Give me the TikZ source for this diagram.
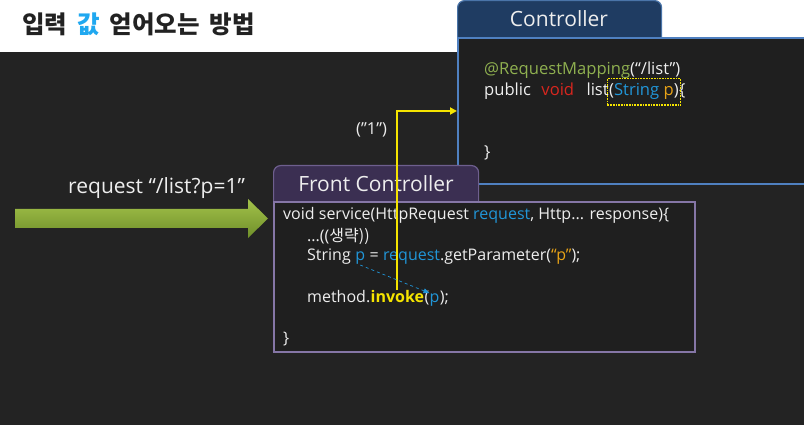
\documentclass[tikz,border=0pt]{standalone}
\usepackage{fontspec}
\setmainfont{Open Sans}
\newfontfamily\kr{Noto Sans CJK KR}
\usetikzlibrary{arrows.meta,fit}
\definecolor{bg}{HTML}{232323}
\definecolor{boxfill}{HTML}{1F1F1F}
\definecolor{ctab}{HTML}{1F3C62}
\definecolor{ctabline}{HTML}{4A74A8}
\definecolor{cline}{HTML}{4F80C0}
\definecolor{ftab}{HTML}{3B2F52}
\definecolor{ftabline}{HTML}{6E5F8E}
\definecolor{fline}{HTML}{8576A6}
\definecolor{codew}{HTML}{EEEEEE}
\definecolor{cb}{HTML}{2196D8}
\definecolor{co}{HTML}{E8A317}
\definecolor{cr}{HTML}{D8261E}
\definecolor{cg}{HTML}{8FB050}
\definecolor{yl}{HTML}{F5E400}
\definecolor{titleblue}{HTML}{20A8F0}
\definecolor{titledark}{HTML}{222222}
\definecolor{arrtop}{HTML}{A3C24A}
\definecolor{arrbot}{HTML}{6F8F2A}
\begin{document}
\begin{tikzpicture}[x=1pt,y=-1pt,
  code/.style={text=codew,font=\fontsize{16}{18}\selectfont,inner sep=0pt,anchor=base west},
  ccode/.style={code,font=\fontsize{16.6}{19}\selectfont},
  tabtitle/.style={text=codew,font=\fontsize{21}{24}\selectfont,inner sep=0pt},
  tabshape/.style={rounded corners=7pt,line width=1.2pt,anchor=north west},
  bodyshape/.style={fill=boxfill,line width=2pt,anchor=north west}]
\useasboundingbox (0,0) rectangle (804,425);
\clip (0,0) rectangle (804,425);
% background
\fill[bg] (0,0) rectangle (804,425);
\fill[white] (0,0) rectangle (804,52);
% title
\node[anchor=base west,inner sep=0pt,text=titledark,font=\kr\bfseries\fontsize{24.5}{28}\selectfont] (title) at (22,34)
  {입력\hspace{10pt}\textcolor{titleblue}{값}\hspace{10pt}얻어오는\hspace{10pt}방법};
% Controller
\node[tabshape,fill=ctab,draw=ctabline,minimum width=204pt,minimum height=50pt] (ctab) at (457,0) {};
\node[bodyshape,draw=cline,minimum width=400pt,minimum height=146pt] (cbody) at (457,37) {};
\node[tabtitle] (ctitle) at (559,19) {Controller};
\node[ccode,text=cg] (c1) at (484,75) {@RequestMapping\textcolor{codew}{(“/list”)}};
\node[ccode] (c2a) at (484,96) {public};
\node[ccode,text=cr] (c2b) at ([xshift=10pt]c2a.base east) {void};
\node[ccode] (c2c) at ([xshift=12pt]c2b.base east) {list};
\node[ccode] (cparam) at (c2c.base east) {(\textcolor{cb}{String} \textcolor{co}{p})};
\node[ccode] (c2e) at (cparam.base east) {\{};
\node[ccode] (c3) at (484,158) {\}};
\node[fit=(cparam),draw=yl,densely dotted,line width=1.7pt,inner xsep=1.5pt,inner ysep=5pt] (pbox) {};
% Front Controller
\node[tabshape,fill=ftab,draw=ftabline,minimum width=205pt,minimum height=50pt] (ftab) at (273,165) {};
\node[bodyshape,draw=fline,minimum width=421pt,minimum height=150pt] (fbody) at (273,201) {};
\node[tabtitle] (ftitle) at (376,184) {Front Controller};
\node[code] (f1) at (283,220) {void service(HttpRequest \textcolor{cb}{request}, Http... response)\{};
\node[code] (f2) at (307,241) {...((\kr 생략))};
\node[code] (f3a) at (307,261) {String\ \null};
\node[code,text=cb] (pvar) at (f3a.base east) {p};
\node[code] (f3c) at (pvar.base east) {\ =\ \textcolor{cb}{request}.getParameter(\textcolor{co}{“p”});};
\node[code] (f5a) at (307,302) {method.};
\node[code,text=yl,font=\bfseries\fontsize{16}{18}\selectfont] (invoke) at (f5a.base east) {invoke};
\node[code] (f5c) at (invoke.base east) {(};
\node[code,text=cb] (pinv) at (f5c.base east) {p};
\node[code] (f5e) at (pinv.base east) {);};
\node[code] (f7) at (283,343) {\}};
% request arrow
\shade[top color=arrtop,bottom color=arrbot] (15,209) -- (248,209) -- (248,199) -- (268,218.5) -- (248,238) -- (248,228) -- (15,228) -- cycle;
\node[anchor=base west,inner sep=0pt,text=codew,font=\fontsize{21}{24}\selectfont] (req) at (68,194) {request “/list?p=1”};
% ("1") label
\node[anchor=base west,inner sep=0pt,text=codew,font=\fontsize{16.5}{19}\selectfont] (one) at (356,135) {(”1”)};
% connectors
\draw[yl,line width=2pt,-{Triangle[length=7pt,width=7pt]}] (invoke.north) |- (cbody.west);
\draw[cb,dashed,line width=0.7pt,-{Triangle[length=6pt,width=5pt]}] (pvar.south) -- (pinv.north west);
\end{tikzpicture}
\end{document}
